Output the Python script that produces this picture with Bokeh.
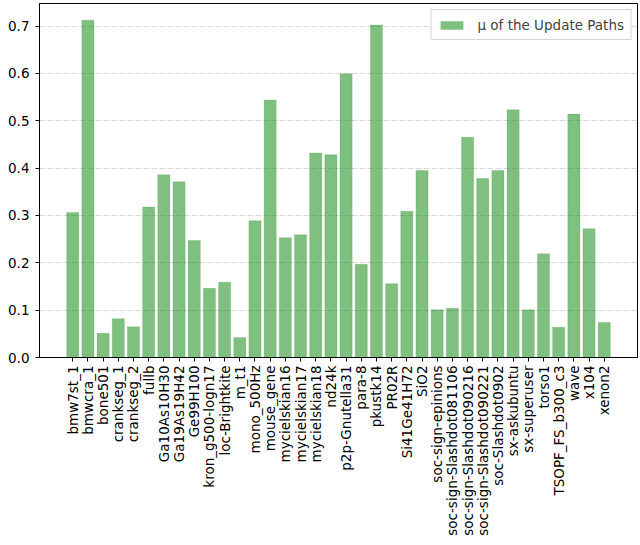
import math
from bokeh.plotting import figure
from bokeh.models import (ColumnDataSource, Range1d, FixedTicker, PrintfTickFormatter,
                          Legend, LegendItem)
from bokeh.embed import file_html
from bokeh.resources import INLINE

categories = ["bmw7st_1", "bmwcra_1", "bone501", "crankseg_1", "crankseg_2", "fullb",
              "Ga10As10H30", "Ga19As19H42", "Ge99H100", "kron_g500-logn17", "loc-Brightkite",
              "m_t1", "mono_500Hz", "mouse_gene", "mycielskian16", "mycielskian17",
              "mycielskian18", "nd24k", "p2p-Gnutella31", "para-8", "pkustk14", "PR02R",
              "Si41Ge41H72", "SiO2", "soc-sign-epinions", "soc-sign-Slashdot081106",
              "soc-sign-Slashdot090216", "soc-sign-Slashdot090221", "soc-Slashdot0902",
              "sx-askubuntu", "sx-superuser", "torso1", "TSOPF_FS_b300_c3", "wave", "x104",
              "xenon2"]
mu_values = [0.306, 0.712, 0.051, 0.082, 0.065, 0.318,
             0.386, 0.371, 0.247, 0.146, 0.159,
             0.042, 0.289, 0.544, 0.253, 0.259,
             0.432, 0.428, 0.599, 0.197, 0.702, 0.156,
             0.309, 0.395, 0.101, 0.104,
             0.465, 0.378, 0.395,
             0.523, 0.101, 0.219, 0.064, 0.514, 0.272,
             0.074]
y_ticks = [0.0, 0.1, 0.2, 0.3, 0.4, 0.5, 0.6, 0.7]
legend_label = "\u03bc of the Update Paths"

FONT = "DejaVu Sans"
FS = "13.5px"

idx = list(range(len(categories)))
src = ColumnDataSource(dict(x=idx, top=mu_values, name=categories))

n = len(categories)
pad = (n - 1 + 0.8) * 0.05
p = figure(width=638, height=543, output_backend="svg", toolbar_location=None,
           x_range=Range1d(-0.4 - pad, n - 1 + 0.4 + pad),
           y_range=Range1d(0, max(mu_values) * 1.05),
           min_border_left=39, min_border_right=1, min_border_top=3, min_border_bottom=186)

r = p.vbar(x="x", top="top", width=0.8, source=src, fill_color="green", fill_alpha=0.5,
           line_color="green", line_alpha=0.15)

# axes
p.xaxis.ticker = FixedTicker(ticks=idx)
p.xaxis.major_label_overrides = {i: c for i, c in zip(idx, categories)}
p.xaxis.major_label_orientation = math.pi / 2
p.yaxis.ticker = FixedTicker(ticks=y_ticks)
p.yaxis.formatter = PrintfTickFormatter(format="%.1f")
for ax in (p.xaxis, p.yaxis):
    ax.major_label_text_font = FONT
    ax.major_label_text_font_size = FS
    ax.major_label_text_color = "black"
    ax.axis_line_color = "black"
    ax.major_tick_line_color = "black"
    ax.major_tick_out = 4
    ax.major_tick_in = 0
    ax.minor_tick_line_color = None
    ax.major_label_standoff = 4
p.yaxis.major_label_standoff = 6

p.xgrid.grid_line_color = None
p.ygrid.grid_line_color = "#c0c0c0"
p.ygrid.grid_line_alpha = 0.6
p.ygrid.grid_line_dash = "6 2"
p.ygrid.ticker = FixedTicker(ticks=y_ticks)

p.outline_line_color = "black"
p.outline_line_alpha = 1.0
p.outline_line_width = 1

legend = Legend(items=[LegendItem(label=legend_label, renderers=[r])],
                location="top_right", margin=6, padding=6, spacing=0,
                glyph_width=28, glyph_height=10, label_height=17, label_standoff=12,
                label_text_font=FONT, label_text_font_size=FS,
                border_line_color="#cccccc", border_line_alpha=0.8,
                background_fill_alpha=0.8)
p.add_layout(legend)

open("out.html", "w").write(file_html(p, INLINE))
